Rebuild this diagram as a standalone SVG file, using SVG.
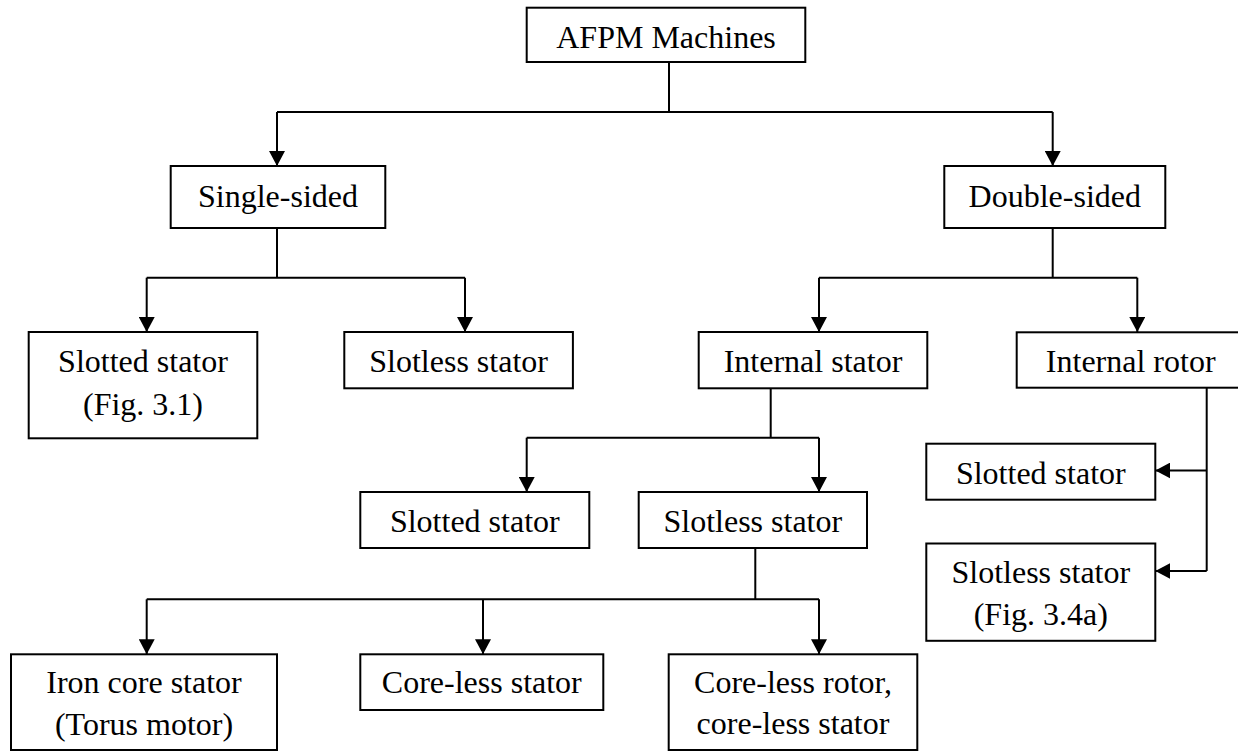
<svg xmlns="http://www.w3.org/2000/svg" width="1238" height="751" viewBox="0 0 1238 751">
<style>
.box{fill:#fff;stroke:#000;stroke-width:2}
.t{font-family:"Liberation Serif","Times New Roman",serif;font-size:32px;fill:#000;text-anchor:middle}
.c{fill:none;stroke:#000;stroke-width:2}
.a{fill:none;stroke:#000;stroke-width:2;marker-end:url(#ah)}
</style>
<defs>
<marker id="ah" markerUnits="userSpaceOnUse" markerWidth="16" markerHeight="16" refX="15" refY="8" orient="auto">
<path d="M0,0 L15,8 L0,16 z" fill="#000"/>
</marker>
</defs>
<rect width="1238" height="751" fill="#fff"/>
<g id="connectors">
<path class="c" d="M669,62 V112 M277,112 H1052.7"/>
<path class="a" d="M277,112 V166"/>
<path class="a" d="M1052.7,112 V166"/>
<path class="c" d="M277,228 V277.7 M146.7,277.7 H465"/>
<path class="a" d="M146.7,277.7 V332"/>
<path class="a" d="M465,277.7 V332"/>
<path class="c" d="M1052.7,228 V277.7 M819,277.7 H1137.3"/>
<path class="a" d="M819,277.7 V332"/>
<path class="a" d="M1137.3,277.7 V332"/>
<path class="c" d="M770.7,388.3 V437.7 M526.7,437.7 H819"/>
<path class="a" d="M526.7,437.7 V492"/>
<path class="a" d="M819,437.7 V492"/>
<path class="c" d="M1206.7,387.7 V571"/>
<path class="a" d="M1206.7,470.5 H1155.3"/>
<path class="a" d="M1206.7,571 H1155.3"/>
<path class="c" d="M755.3,548 V599.3 M146.7,599.3 H819"/>
<path class="a" d="M146.7,599.3 V654.3"/>
<path class="a" d="M483,599.3 V654.3"/>
<path class="a" d="M819,599.3 V654.3"/>
</g>
<g id="n-afpm"><rect class="box" x="526.7" y="7.7" width="278.6" height="54.3"/><text class="t" x="666" y="47.7">AFPM Machines</text></g>
<g id="n-single"><rect class="box" x="170.7" y="166" width="214.6" height="62"/><text class="t" x="278" y="206.7">Single-sided</text></g>
<g id="n-double"><rect class="box" x="944.3" y="166" width="221" height="62"/><text class="t" x="1054.8" y="206.7">Double-sided</text></g>
<g id="n-ss-slotted"><rect class="box" x="28.7" y="332" width="228.6" height="106.3"/><text class="t" x="143" y="371.7">Slotted stator</text><text class="t" x="143" y="414.5">(Fig. 3.1)</text></g>
<g id="n-ss-slotless"><rect class="box" x="344.3" y="332" width="228.6" height="56.3"/><text class="t" x="458.6" y="371.7">Slotless stator</text></g>
<g id="n-int-stator"><rect class="box" x="698.7" y="332" width="228.6" height="56.3"/><text class="t" x="813" y="371.7">Internal stator</text></g>
<g id="n-int-rotor"><rect class="box" x="1016.7" y="332.3" width="228" height="55.4"/><text class="t" x="1130.7" y="371.7">Internal rotor</text></g>
<g id="n-is-slotted"><rect class="box" x="360.3" y="492" width="229" height="56"/><text class="t" x="474.8" y="531.7">Slotted stator</text></g>
<g id="n-is-slotless"><rect class="box" x="638.7" y="492" width="228.3" height="56"/><text class="t" x="752.8" y="531.7">Slotless stator</text></g>
<g id="n-ir-slotted"><rect class="box" x="926.3" y="443.7" width="229" height="56"/><text class="t" x="1040.8" y="483.5">Slotted stator</text></g>
<g id="n-ir-slotless"><rect class="box" x="926.3" y="543.5" width="229" height="97.3"/><text class="t" x="1040.8" y="582.5">Slotless stator</text><text class="t" x="1040.8" y="625">(Fig. 3.4a)</text></g>
<g id="n-iron"><rect class="box" x="11" y="654.3" width="266" height="95.7"/><text class="t" x="144" y="693.3">Iron core stator</text><text class="t" x="144" y="735">(Torus motor)</text></g>
<g id="n-coreless"><rect class="box" x="360.3" y="654.3" width="243" height="55.7"/><text class="t" x="481.8" y="693.3">Core-less stator</text></g>
<g id="n-coreless-both"><rect class="box" x="668.7" y="654.3" width="248.6" height="95.7"/><text class="t" x="793" y="693.3">Core-less rotor,</text><text class="t" x="793" y="734.3">core-less stator</text></g>
</svg>
